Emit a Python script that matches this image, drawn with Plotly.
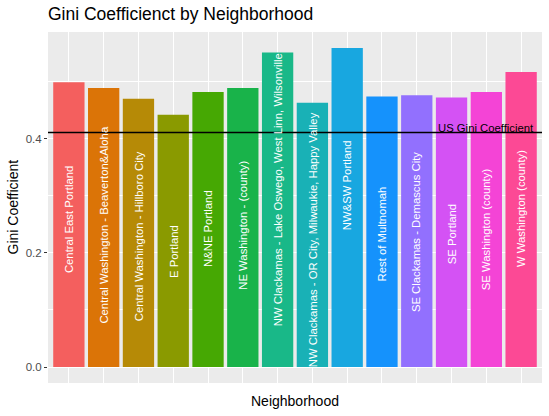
import plotly.graph_objects as go

# ---- data ----
neighborhoods = [
    "Central East Portland",
    "Central Washington - Beaverton&Aloha",
    "Central Washington - Hillboro City",
    "E Portland",
    "N&NE Portland",
    "NE Washington - (county)",
    "NW Clackamas - Lake Oswego, West Linn, Wilsonville",
    "NW Clackamas - OR City, Milwaukie, Happy Valley",
    "NW&SW Portland",
    "Rest of Multnomah",
    "SE Clackamas - Demascus City",
    "SE Portland",
    "SE Washington (county)",
    "W Washington (county)",
]
gini = [0.499, 0.489, 0.470, 0.442, 0.482, 0.489, 0.551,
        0.463, 0.559, 0.474, 0.476, 0.472, 0.482, 0.517]
bar_colors = ["#F45F5E", "#DB7407", "#B68A06", "#8A9A00", "#46A803", "#19B34A",
              "#19B888", "#19B1B6", "#18A7E0", "#1592FC", "#9270FE", "#D452F4",
              "#F444D6", "#FC4995"]
us_gini = 0.411
us_label = "US Gini Coefficient"
us_label_category = neighborhoods[12]
y_ticks = [0.0, 0.2, 0.4]
y_tick_text = ["0.0", "0.2", "0.4"]

LABEL_OFFSET = 0.24
FONT = "Liberation Sans, Arial, Helvetica, sans-serif"

fig = go.Figure()
fig.add_trace(go.Bar(
    x=neighborhoods, y=gini,
    marker=dict(color=bar_colors, line=dict(width=0)),
    showlegend=False, hoverinfo="x+y",
))

annotations = []
for name, v in zip(neighborhoods, gini):
    annotations.append(dict(
        x=name, y=v - LABEL_OFFSET, xref="x", yref="y",
        text=name, textangle=-90, showarrow=False,
        xanchor="center", yanchor="middle",
        font=dict(family=FONT, size=11.3, color="white"),
    ))

annotations.append(dict(
    x=us_label_category, y=us_gini, xref="x", yref="y",
    text=us_label, showarrow=False, xanchor="center", yanchor="middle",
    yshift=4.5, font=dict(family=FONT, size=11.3, color="black"),
))

# axis titles
annotations.append(dict(
    x=0.5, y=0, xref="paper", yref="paper", text="Neighborhood",
    showarrow=False, xanchor="center", yanchor="middle", yshift=-18,
    font=dict(family=FONT, size=14, color="black"),
))
annotations.append(dict(
    x=0, y=0.5, xref="paper", yref="paper", text="Gini Coefficient",
    showarrow=False, xanchor="center", yanchor="middle", xshift=-36,
    textangle=-90, font=dict(family=FONT, size=14, color="black"),
))

ymax = max(gini)
pad = 0.05 * ymax

fig.update_layout(
    width=549, height=416, autosize=False,
    margin=dict(l=48, r=7, t=32, b=33),
    paper_bgcolor="white", plot_bgcolor="#EBEBEB",
    bargap=0.1,
    font=dict(family=FONT),
    title=dict(
        text="Gini Coefficienct by Neighborhood",
        x=0, xref="paper", xanchor="left",
        y=1 - 14 / 416, yref="container", yanchor="middle",
        font=dict(family=FONT, size=17.5, color="black"),
    ),
    xaxis=dict(
        type="category", range=[-0.6, len(neighborhoods) - 0.4],
        showticklabels=False, ticks="", showgrid=True,
        gridcolor="white", gridwidth=1.1, zeroline=False, showline=False,
    ),
    yaxis=dict(
        range=[-pad, ymax + pad],
        tickvals=y_ticks, ticktext=y_tick_text,
        ticks="outside", ticklen=3, tickwidth=1, tickcolor="#333333",
        tickfont=dict(family=FONT, size=11.5, color="#4D4D4D"),
        showgrid=True, gridcolor="white", gridwidth=1.1,
        minor=dict(tickvals=[0.1, 0.3, 0.5], showgrid=True,
                   gridcolor="white", gridwidth=0.5, ticks=""),
        zeroline=False, showline=False,
    ),
    annotations=annotations,
    shapes=[dict(
        type="line", xref="paper", yref="y", x0=0, x1=1,
        y0=us_gini, y1=us_gini, line=dict(color="black", width=1.4),
        layer="above",
    )],
)

fig.write_html(
    "out.html",
    config={"displayModeBar": False},
    post_script="document.body.style.margin='0';document.body.style.overflow='hidden';",
)
